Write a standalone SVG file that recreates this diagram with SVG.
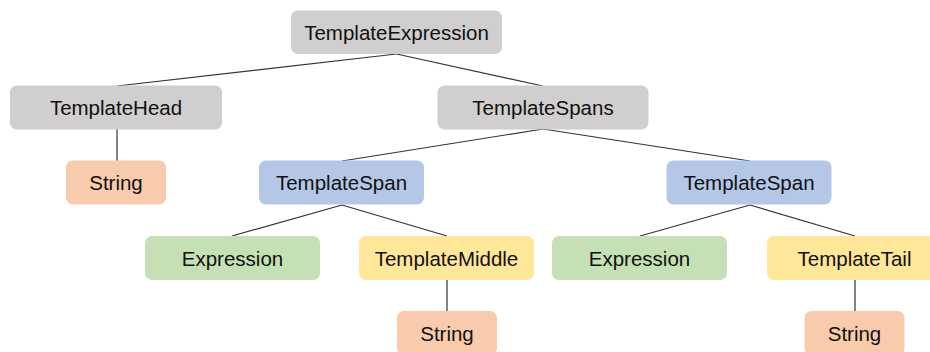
<svg xmlns="http://www.w3.org/2000/svg" width="930" height="352" viewBox="0 0 930 352">
  <style>
    .box { stroke: none; }
    .gray { fill: #D0CECE; }
    .blue { fill: #B4C7E7; }
    .green { fill: #C5E0B4; }
    .yellow { fill: #FFE699; }
    .orange { fill: #F8CBAD; }
    .lbl { font-family: "Liberation Sans", Arial, sans-serif; font-size: 20.5px; fill: #111; text-anchor: middle; }
    .edge { stroke: #333; stroke-width: 1.2; fill: none; }
  </style>
  <rect width="930" height="352" fill="#fff"/>

  <g id="connectors">
    <line class="edge" x1="396.5" y1="54" x2="117" y2="86"/>
    <line class="edge" x1="396.5" y1="54" x2="543" y2="86"/>
    <line class="edge" x1="117" y1="129" x2="117" y2="161"/>
    <line class="edge" x1="543" y1="129" x2="342" y2="161"/>
    <line class="edge" x1="543" y1="129" x2="750" y2="161"/>
    <line class="edge" x1="342" y1="205" x2="232" y2="236"/>
    <line class="edge" x1="342" y1="205" x2="447" y2="236"/>
    <line class="edge" x1="750" y1="205" x2="640" y2="236"/>
    <line class="edge" x1="750" y1="205" x2="855" y2="236"/>
    <line class="edge" x1="447" y1="280" x2="447" y2="311"/>
    <line class="edge" x1="855" y1="280" x2="855" y2="311"/>
  </g>

  <g id="template-expression">
    <rect class="box gray" x="291" y="10.5" width="211" height="43.5" rx="7"/>
    <text class="lbl" x="396.5" y="40">TemplateExpression</text>
  </g>
  <g id="template-head">
    <rect class="box gray" x="10" y="85.5" width="212" height="44" rx="7"/>
    <text class="lbl" x="116" y="115">TemplateHead</text>
  </g>
  <g id="template-spans">
    <rect class="box gray" x="437.5" y="85.5" width="211" height="44" rx="7"/>
    <text class="lbl" x="543" y="115">TemplateSpans</text>
  </g>
  <g id="head-string">
    <rect class="box orange" x="66" y="160.5" width="100" height="44" rx="7"/>
    <text class="lbl" x="116" y="190">String</text>
  </g>
  <g id="template-span-1">
    <rect class="box blue" x="259" y="160.5" width="165" height="44" rx="7"/>
    <text class="lbl" x="341.5" y="190">TemplateSpan</text>
  </g>
  <g id="template-span-2">
    <rect class="box blue" x="666.5" y="160.5" width="165" height="44" rx="7"/>
    <text class="lbl" x="749" y="190">TemplateSpan</text>
  </g>
  <g id="expression-1">
    <rect class="box green" x="145" y="236" width="175" height="44" rx="7"/>
    <text class="lbl" x="232.5" y="265.5">Expression</text>
  </g>
  <g id="template-middle">
    <rect class="box yellow" x="359" y="236" width="175" height="44" rx="7"/>
    <text class="lbl" x="446.5" y="265.5">TemplateMiddle</text>
  </g>
  <g id="expression-2">
    <rect class="box green" x="552" y="236" width="175" height="44" rx="7"/>
    <text class="lbl" x="639.5" y="265.5">Expression</text>
  </g>
  <g id="template-tail">
    <rect class="box yellow" x="767" y="236" width="175" height="44" rx="7"/>
    <text class="lbl" x="854.5" y="265.5">TemplateTail</text>
  </g>
  <g id="middle-string">
    <rect class="box orange" x="397" y="311" width="100" height="44" rx="7"/>
    <text class="lbl" x="447" y="340.5">String</text>
  </g>
  <g id="tail-string">
    <rect class="box orange" x="804.5" y="311" width="100" height="44" rx="7"/>
    <text class="lbl" x="854.5" y="340.5">String</text>
  </g>
</svg>
